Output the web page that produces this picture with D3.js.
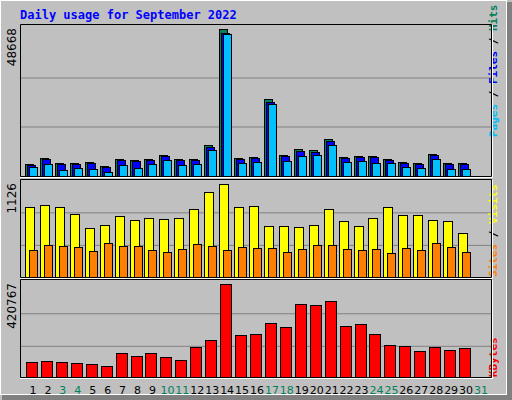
<!DOCTYPE html>
<html><head><meta charset="utf-8">
<script src="https://cdn.jsdelivr.net/npm/d3@7"></script>
<style>body{margin:0;background:#fff}</style>
</head><body><div id="chart"></div>
<script>
const days = d3.range(1, 31)
const weekend = [3, 4, 10, 11, 17, 18, 24, 25, 31]
const hits = [3973,5960,4304,4304,4635,3311,5628,5297,5628,6952,5628,5628,10263,48668,5960,6290,25492,6952,8939,8608,12250,6290,6621,6621,5628,4635,4304,7284,4304,4304]
const files = [3640,5630,3970,3970,4300,2980,5300,4970,5300,6620,5300,5300,9600,47400,5630,5960,24500,6620,8300,8000,11600,5960,6290,6290,5300,4300,3970,6950,3970,3970]
const pages = [2980,3973,1986,2648,2317,1324,3641,2648,3973,5297,3641,3973,8608,47013,4304,4635,23837,4966,6621,6952,10263,4635,4966,4304,4304,2980,2648,5628,2317,2317]
const visits = [846,870,846,760,589,626,736,687,711,699,711,821,1028,1126,846,858,614,614,602,626,821,675,614,711,846,748,748,687,675,528]
const sites = [321,382,370,358,309,407,370,370,321,297,333,394,370,321,358,346,346,297,333,382,382,333,321,333,285,346,321,407,358,297]
const kbytes = [66031,70638,66031,61424,56817,47604,107492,93672,107492,89065,75244,135133,167380,420767,190414,195021,245696,227269,328618,324011,342439,231876,241089,195021,144346,139740,116706,135133,121312,130526]

const svg = d3.select("#chart").append("svg").attr("width", 512).attr("height", 400)
  .style("font-family", "DejaVu Sans Mono, monospace")

svg.append("rect").attr("width", 512).attr("height", 400).attr("fill", "#c0c0c0")
svg.append("rect").attr("x", 507).attr("y", 2).attr("width", 5).attr("height", 398).attr("fill", "#808080")
svg.append("rect").attr("x", 2).attr("y", 395).attr("width", 510).attr("height", 5).attr("fill", "#808080")
svg.append("rect").attr("x", 0.5).attr("y", 0.5).attr("width", 506).attr("height", 394)
  .attr("fill", "none").attr("stroke", "#fff")

svg.append("text").attr("x", 20).attr("y", 19).attr("fill", "#0000ff")
  .attr("font-size", "12px").attr("font-weight", "bold").text("Daily usage for September 2022")

const x = d3.scaleLinear().domain([1, 31]).range([33, 481])
const left = 20, right = 491

const panels = [
  { top: 25, bottom: 176, max: 48668, label: "48668", grids: [1 / 3, 2 / 3],
    legend: [["Pages", "#00c0ff"], [" / ", "#000"], ["Files", "#0000ff"], [" / ", "#000"], ["Hits", "#00805c"]], ly: 137 },
  { top: 180, bottom: 277, max: 1126, label: "1126", grids: [0.34, 0.69],
    legend: [["Sites", "#ff8000"], [" / ", "#000"], ["Visits", "#ffff00"]], ly: 277 },
  { top: 280, bottom: 377, max: 420767, label: "420767", grids: [0.33, 0.68],
    legend: [["KBytes", "#ff0000"]], ly: 377 }
]

panels.forEach((p) => {
  p.y = d3.scaleLinear().domain([0, p.max]).range([p.bottom, p.top + 4])
  const g = svg.append("g")
  g.selectAll(".grid").data(p.grids).enter().append("line")
    .attr("x1", left).attr("x2", right)
    .attr("y1", (d) => p.bottom - d * (p.bottom - p.top - 4))
    .attr("y2", (d) => p.bottom - d * (p.bottom - p.top - 4))
    .attr("stroke", "#808080")
  g.append("text").attr("transform", `translate(16,${p.top + 3}) rotate(-90)`)
    .attr("text-anchor", "end").attr("font-size", "12px").attr("font-family", "DejaVu Sans, sans-serif")
    .attr("fill", "#000").text(p.label)
  const t = g.append("text").attr("transform", `translate(497,${p.ly}) rotate(-90)`)
    .attr("font-size", "11px").attr("font-weight", "bold")
  p.legend.forEach(([s, c]) => t.append("tspan").attr("fill", c).text(s))
})

function bars(p, data, offset, w, color) {
  svg.append("g").selectAll("rect").data(data).enter().append("rect")
    .attr("x", (d, i) => Math.round(x(days[i])) + offset + 0.5)
    .attr("y", (d) => Math.round(p.y(d)) + 0.5)
    .attr("width", w)
    .attr("height", (d) => p.bottom - Math.round(p.y(d)))
    .attr("fill", color).attr("stroke", "#000")
}

bars(panels[0], hits, -8, 8, "#00805c")
bars(panels[0], files, -6, 8, "#0000ff")
bars(panels[0], pages, -4, 8, "#00c0ff")
bars(panels[1], visits, -8, 9, "#ffff00")
bars(panels[1], sites, -4, 8, "#ff8000")
bars(panels[2], kbytes, -7, 11, "#ff0000")

// panel frames
panels.forEach((p) => {
  svg.append("path").attr("d", `M${left + 0.5},${p.bottom + 0.5}V${p.top - 0.5}H${right + 0.5}`)
    .attr("fill", "none").attr("stroke", "#000")
  svg.append("path").attr("d", `M${right + 0.5},${p.top - 0.5}V${p.bottom + 0.5}H${left + 0.5}`)
    .attr("fill", "none").attr("stroke", "#000")
  svg.append("path").attr("d", `M${right + 1.5},${p.top}V${p.bottom + 1.5}H${left}`)
    .attr("fill", "none").attr("stroke", "#fff")
})

svg.append("g").selectAll("text").data(d3.range(1, 32)).enter().append("text")
  .attr("x", (d) => x(d)).attr("y", 394).attr("text-anchor", "middle")
  .attr("font-size", "11px").attr("font-family", "DejaVu Sans, sans-serif")
  .attr("fill", (d) => weekend.includes(d) ? "#00805c" : "#000")
  .text((d) => d)
</script></body></html>
